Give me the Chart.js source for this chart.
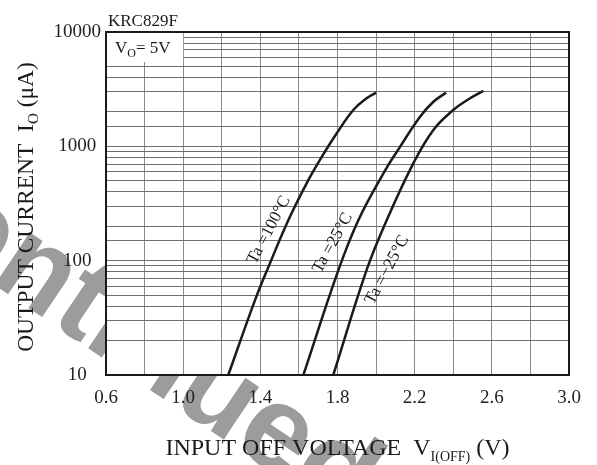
<!DOCTYPE html>
<html>
<head>
<meta charset="utf-8">
<script src="https://cdn.jsdelivr.net/npm/chart.js@4.4.0/dist/chart.umd.min.js"></script>
<style>
body{margin:0;background:#fff}
#wrap{width:597px;height:465px;position:relative}
</style>
</head>
<body>
<div id="wrap"><canvas id="myChart"></canvas></div>
<script>
// values (V, uA)
const ta100V = [1.234, 1.372, 1.45, 1.545, 1.64, 1.709, 1.796, 1.882, 1.951, 2.0];
const ta100I = [10, 45, 95, 226, 475, 760, 1300, 2080, 2630, 2950];

const ta25V = [1.623, 1.805, 1.908, 2.038, 2.124, 2.228, 2.297, 2.363];
const ta25I = [10, 83, 226, 580, 990, 1815, 2455, 2950];

const taM25V = [1.778, 1.951, 2.055, 2.193, 2.297, 2.40, 2.479, 2.556];
const taM25I = [10, 83, 226, 710, 1390, 2080, 2580, 3050];

const curveLabels = ['Ta =100°C', 'Ta =25°C', 'Ta =\u221225°C'];
const xTickLabels = ['0.6', '1.0', '1.4', '1.8', '2.2', '2.6', '3.0'];
const yTickLabels = ['10', '100', '1000', '10000'];

const SERIF = '"Liberation Serif", "Times New Roman", serif';

function pts(xs, ys) {
  return xs.map((x, i) => ({x: x, y: ys[i]}));
}

// draw text made of pieces (for subscripts)
function drawParts(ctx, parts, x, y) {
  let cx = x;
  parts.forEach(p => {
    ctx.font = p[1] + 'px ' + SERIF;
    ctx.fillText(p[0], cx, y + p[2]);
    cx += ctx.measureText(p[0]).width;
  });
}
function partsWidth(ctx, parts) {
  let w = 0;
  parts.forEach(p => {
    ctx.font = p[1] + 'px ' + SERIF;
    w += ctx.measureText(p[0]).width;
  });
  return w;
}

const paperPlugin = {
  id: 'paper',
  beforeDraw(chart) {
    const ctx = chart.ctx;
    const a = chart.chartArea;
    ctx.save();
    ctx.fillStyle = '#fff';
    ctx.fillRect(0, 0, chart.width, chart.height);
    // watermark
    ctx.translate(-265, 70);
    ctx.rotate(34 * Math.PI / 180);
    ctx.fillStyle = '#9c9c9c';
    ctx.font = 'bold 120px "Liberation Sans", Arial, sans-serif';
    ctx.textBaseline = 'middle';
    ctx.fillText('Discontinued', 0, 0);
    ctx.restore();
    ctx.save();
    ctx.fillStyle = '#fff';
    ctx.fillRect(a.left, a.top, a.right - a.left, a.bottom - a.top);
    ctx.restore();
  },
  afterDraw(chart) {
    const ctx = chart.ctx;
    const a = chart.chartArea;
    const xs = chart.scales.x;
    ctx.save();

    // condition box
    ctx.fillStyle = '#fff';
    ctx.fillRect(a.left, a.top, xs.getPixelForValue(1.0) - a.left, 30);
    ctx.fillStyle = '#1a1a1a';
    ctx.textBaseline = 'alphabetic';
    drawParts(ctx, [['V', 17, 0], ['O', 12, 4], ['= 5V', 17, 0]], a.left + 9, a.top + 21);

    // part number
    ctx.font = '17px ' + SERIF;
    ctx.fillText('KRC829F', a.left + 2, a.top - 6);

    // curve labels
    const lab = [
      [1.445, 230, -62],
      [1.775, 243, -61],
      [2.057, 270, -62]
    ];
    ctx.font = '17px ' + SERIF;
    ctx.textAlign = 'center';
    ctx.textBaseline = 'middle';
    curveLabels.forEach((t, i) => {
      ctx.save();
      ctx.translate(xs.getPixelForValue(lab[i][0]), lab[i][1]);
      ctx.rotate(lab[i][2] * Math.PI / 180);
      ctx.fillText(t, 0, 0);
      ctx.restore();
    });

    // frame
    ctx.strokeStyle = '#1a1a1a';
    ctx.lineWidth = 2;
    ctx.strokeRect(a.left, a.top, a.right - a.left, a.bottom - a.top);

    // axis titles
    ctx.textAlign = 'left';
    ctx.textBaseline = 'alphabetic';
    const xt = [['INPUT OFF VOLTAGE  V', 24, 0], ['I(OFF)', 14, 6], [' (V)', 24, 0]];
    const xw = partsWidth(ctx, xt);
    drawParts(ctx, xt, (a.left + a.right) / 2 - xw / 2, 455);

    const yt = [['OUTPUT CURRENT  I', 23.5, 0], ['O', 15, 5], [' (\u03bcA)', 23.5, 0]];
    const yw = partsWidth(ctx, yt);
    ctx.translate(33, 207);
    ctx.rotate(-Math.PI / 2);
    drawParts(ctx, yt, -yw / 2, 0);
    ctx.restore();
  }
};

const lineStyle = {
  borderColor: '#1a1a1a',
  borderWidth: 2.5,
  pointRadius: 0,
  fill: false,
  tension: 0.4
};

new Chart(document.getElementById('myChart'), {
  type: 'line',
  data: {
    datasets: [
      Object.assign({label: curveLabels[0], data: pts(ta100V, ta100I)}, lineStyle),
      Object.assign({label: curveLabels[1], data: pts(ta25V, ta25I)}, lineStyle),
      Object.assign({label: curveLabels[2], data: pts(taM25V, taM25I)}, lineStyle)
    ]
  },
  options: {
    responsive: true,
    maintainAspectRatio: false,
    animation: false,
    events: [],
    layout: {padding: {top: 32, right: 28, left: 0, bottom: 0}},
    plugins: {legend: {display: false}, tooltip: {enabled: false}},
    scales: {
      x: {
        type: 'linear',
        min: 0.6,
        max: 3.0,
        border: {display: false},
        grid: {color: '#8a8a8a', lineWidth: 1, drawTicks: false},
        ticks: {
          stepSize: 0.2,
          autoSkip: false,
          maxRotation: 0,
          padding: 12,
          color: '#222',
          font: {family: SERIF, size: 19},
          callback: function (v) {
            const s = Number(v).toFixed(1);
            return xTickLabels.includes(s) ? s : '';
          }
        },
        afterFit: function (s) { s.height = 90; }
      },
      y: {
        type: 'logarithmic',
        min: 10,
        max: 10000,
        border: {display: false},
        grid: {color: '#6e6e6e', lineWidth: 1, drawTicks: false},
        ticks: {
          autoSkip: false,
          crossAlign: 'center',
          padding: 5,
          color: '#222',
          font: {family: SERIF, size: 19},
          callback: function (v) {
            const s = String(Math.round(v));
            return yTickLabels.includes(s) ? s : '';
          }
        },
        afterFit: function (s) { s.width = 106; }
      }
    }
  },
  plugins: [paperPlugin]
});
</script>
</body>
</html>
